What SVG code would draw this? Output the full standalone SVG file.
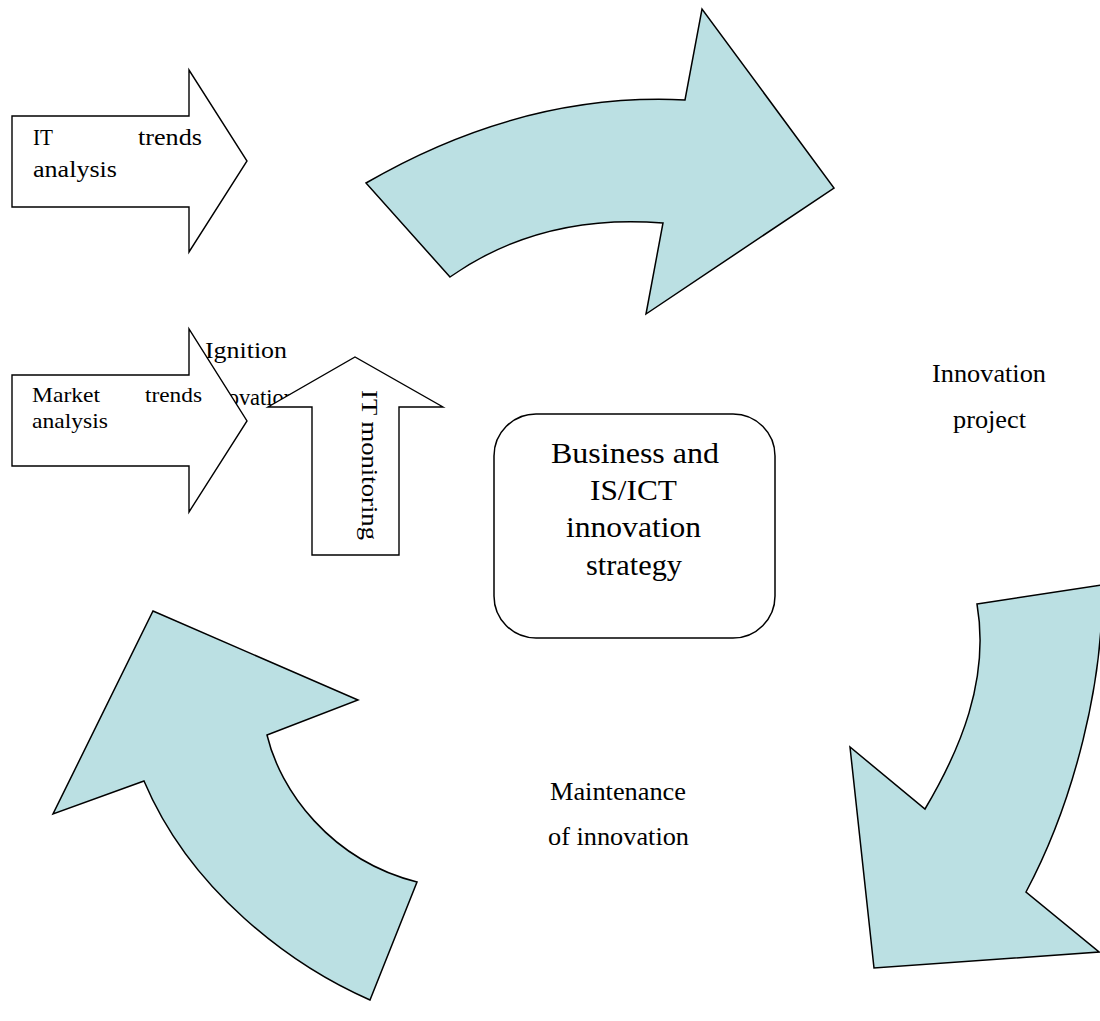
<svg xmlns="http://www.w3.org/2000/svg" width="1100" height="1021" viewBox="0 0 1100 1021">
  <style>
    .bg { fill: #ffffff; }
    .block { fill: #ffffff; stroke: #000000; stroke-width: 1.4; stroke-linejoin: miter; }
    .curve { fill: #BBE0E3; stroke: #000000; stroke-width: 1.5; stroke-linejoin: miter; }
    .box { fill: #ffffff; stroke: #000000; stroke-width: 1.5; }
    text { font-family: "Liberation Serif", "Times New Roman", serif; fill: #000000; }
    .t20 { font-size: 22px; }
    .t22 { font-size: 24px; }
    .t23 { font-size: 25px; }
    .t27 { font-size: 30px; }
  </style>

  <rect class="bg" x="0" y="0" width="1100" height="1021"/>

  <!-- phase label partly covered by the input arrows -->
  <g id="label-ignition">
    <text class="t22" x="205" y="358" textLength="82" lengthAdjust="spacingAndGlyphs">Ignition</text>
    <text class="t22" x="199" y="405" textLength="96" lengthAdjust="spacingAndGlyphs">innovation</text>
  </g>

  <!-- cycle arrows -->
  <g id="connectors">
    <path id="cycle-top" class="curve" d="M366,183 Q523,92 685,100 L702,9 L834,188 L646,314 L663,223 Q541,213 450,277 Z"/>
    <path id="cycle-right" class="curve" d="M977,604 L1102,585 C1104,680 1075,800 1026,892 L1099,952 L874,968 L850,747 L925,809 C960,750 990,680 977,604 Z"/>
    <path id="cycle-left" class="curve" d="M153,611 L358,700 L267,735 C280,790 330,860 417,882 L370,1000 C290,965 190,890 144,781 L53,814 Z"/>
  </g>

  <!-- input: IT trends analysis -->
  <g id="node-it-trends">
    <path class="block" d="M12,116 L189,116 L189,70 L247,161 L189,252 L189,207 L12,207 Z"/>
    <text class="t22" x="33" y="145" textLength="20" lengthAdjust="spacingAndGlyphs">IT</text>
    <text class="t22" x="138" y="145" textLength="64" lengthAdjust="spacingAndGlyphs">trends</text>
    <text class="t22" x="33" y="177" textLength="84" lengthAdjust="spacingAndGlyphs">analysis</text>
  </g>

  <!-- input: Market trends analysis -->
  <g id="node-market-trends">
    <path class="block" d="M12,375 L189,375 L189,329 L247,421 L189,512 L189,466 L12,466 Z"/>
    <text class="t20" x="32" y="402" textLength="68" lengthAdjust="spacingAndGlyphs">Market</text>
    <text class="t20" x="145" y="402" textLength="57" lengthAdjust="spacingAndGlyphs">trends</text>
    <text class="t20" x="32" y="428" textLength="76" lengthAdjust="spacingAndGlyphs">analysis</text>
  </g>

  <!-- input: IT monitoring -->
  <g id="node-it-monitoring">
    <path class="block" d="M312,555 L312,407 L268,407 L355,357 L443,407 L399,407 L399,555 Z"/>
    <text class="t22" transform="translate(362,390) rotate(90)" x="0" y="0" textLength="150" lengthAdjust="spacingAndGlyphs">IT monitoring</text>
  </g>

  <!-- centre: strategy -->
  <g id="node-strategy">
    <rect class="box" x="494" y="414" width="281" height="224" rx="42" ry="42"/>
    <text class="t27" x="551" y="463" textLength="168" lengthAdjust="spacingAndGlyphs">Business and</text>
    <text class="t27" x="590" y="500" textLength="87" lengthAdjust="spacingAndGlyphs">IS/ICT</text>
    <text class="t27" x="566" y="537" textLength="135" lengthAdjust="spacingAndGlyphs">innovation</text>
    <text class="t27" x="586" y="575" textLength="96" lengthAdjust="spacingAndGlyphs">strategy</text>
  </g>

  <!-- phase labels -->
  <g id="label-project">
    <text class="t23" x="932" y="382" textLength="114" lengthAdjust="spacingAndGlyphs">Innovation</text>
    <text class="t23" x="953" y="428" textLength="73" lengthAdjust="spacingAndGlyphs">project</text>
  </g>

  <g id="label-maintenance">
    <text class="t23" x="550" y="800" textLength="136" lengthAdjust="spacingAndGlyphs">Maintenance</text>
    <text class="t23" x="548" y="845" textLength="141" lengthAdjust="spacingAndGlyphs">of innovation</text>
  </g>
</svg>
